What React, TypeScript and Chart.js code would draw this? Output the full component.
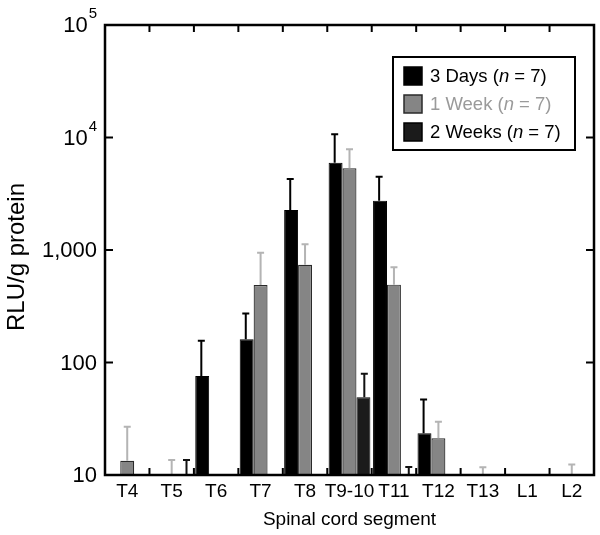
import React, { useEffect, useRef } from "react";
import { Chart, registerables } from "chart.js";
Chart.register(...registerables);

const categories = ["T4", "T5", "T6", "T7", "T8", "T9-10", "T11", "T12", "T13", "L1", "L2"];
const days3 = [null, null, 76, 161, 2270, 5970, 2740, 23.5, null, null, null];
const days3Upper = [null, null, 156, 272, 4280, 10670, 4480, 47, null, null, null];
const week1 = [13.4, null, null, 489, 740, 5320, 492, 21.2, null, null, null];
const week1Upper = [26.9, 13.6, null, 946, 1124, 7850, 702, 29.8, 11.7, null, 12.4];
const weeks2 = [null, null, null, null, null, 49, null, null, null, null, null];
const weeks2Upper = [null, 13.6, null, null, null, 79.5, 11.8, null, null, null, null];
const seriesNames = ["3 Days", "1 Week", "2 Weeks"];
const seriesN = [7, 7, 7];
const yTickValues = [10, 100, 1000, 10000, 100000];
const yTickLabels = ["10", "100", "1,000", "10^4", "10^5"];
const yTitle = "RLU/g protein";
const xTitle = "Spinal cord segment";

const FONT = '"Liberation Sans", Arial, Helvetica, sans-serif';
const fills = ["#000000", "#858585", "#1b1b1b"];
const borders = ["#000000", "#2a2a2a", "#000000"];
const errColors = ["#000000", "#b4b4b4", "#111111"];
const legendText = ["#000000", "#9a9a9a", "#000000"];

const decorPlugin = {
  id: "decor",
  afterDatasetsDraw(chart: any) {
    const ctx = chart.ctx;
    const ys = chart.scales.y;
    const xs = chart.scales.x;
    const n = categories.length;
    const slot = (chart.chartArea.right - chart.chartArea.left) / n / 3;
    chart.data.datasets.forEach((ds: any, di: number) => {
      const upper = ds.upper as (number | null)[];
      upper.forEach((u, i) => {
        if (u == null) return;
        const x = xs.getPixelForValue(i) + (di - 1) * slot;
        const v = ds.data[i];
        const y0 = v == null ? ys.bottom : ys.getPixelForValue(v);
        const y1 = ys.getPixelForValue(u);
        ctx.save();
        ctx.strokeStyle = errColors[di];
        ctx.lineWidth = 2;
        ctx.beginPath();
        ctx.moveTo(x, y0);
        ctx.lineTo(x, y1);
        ctx.moveTo(x - 3.5, y1);
        ctx.lineTo(x + 3.5, y1);
        ctx.stroke();
        ctx.restore();
      });
    });
  },
  afterDraw(chart: any) {
    const ctx = chart.ctx;
    const ys = chart.scales.y;
    const xs = chart.scales.x;
    const { left, right, top, bottom } = chart.chartArea;
    ctx.save();
    // ticks
    ctx.strokeStyle = "#000";
    ctx.lineWidth = 2;
    ctx.beginPath();
    yTickValues.forEach((v) => {
      const y = ys.getPixelForValue(v);
      ctx.moveTo(left, y);
      ctx.lineTo(left + 8, y);
      ctx.moveTo(right, y);
      ctx.lineTo(right - 8, y);
    });
    for (let i = 1; i < categories.length; i++) {
      const x = (xs.getPixelForValue(i - 1) + xs.getPixelForValue(i)) / 2;
      ctx.moveTo(x, bottom);
      ctx.lineTo(x, bottom - 7);
      ctx.moveTo(x, top);
      ctx.lineTo(x, top + 7);
    }
    ctx.stroke();
    // frame
    ctx.lineWidth = 2.5;
    ctx.strokeRect(left, top, right - left, bottom - top);

    // y tick labels
    ctx.fillStyle = "#000";
    ctx.textBaseline = "middle";
    ctx.textAlign = "right";
    yTickValues.forEach((v, i) => {
      const y = ys.getPixelForValue(v);
      const lab = yTickLabels[i];
      const xr = left - 8;
      if (lab.includes("^")) {
        const [base, exp] = lab.split("^");
        ctx.font = `15px ${FONT}`;
        ctx.fillText(exp, xr, y - 11);
        const ew = ctx.measureText(exp).width;
        ctx.font = `22px ${FONT}`;
        ctx.fillText(base, xr - ew - 1, y + 1);
      } else {
        ctx.font = `22px ${FONT}`;
        ctx.fillText(lab, xr, y + 1);
      }
    });

    // x tick labels
    ctx.textAlign = "center";
    ctx.font = `19px ${FONT}`;
    categories.forEach((c, i) => {
      ctx.fillText(c, xs.getPixelForValue(i), bottom + 17);
    });
    // x title
    ctx.font = `19px ${FONT}`;
    ctx.fillText(xTitle, (left + right) / 2, bottom + 45);
    // y title
    ctx.save();
    ctx.translate(17, (top + bottom) / 2 + 7);
    ctx.rotate(-Math.PI / 2);
    ctx.font = `24px ${FONT}`;
    ctx.fillText(yTitle, 0, 0);
    ctx.restore();

    // legend
    const bx = 393, by = 57, bw = 182, bh = 93;
    ctx.fillStyle = "#fff";
    ctx.fillRect(bx, by, bw, bh);
    ctx.strokeStyle = "#000";
    ctx.lineWidth = 2;
    ctx.strokeRect(bx, by, bw, bh);
    const rowY = [76, 104, 132];
    seriesNames.forEach((name, i) => {
      const cy = rowY[i];
      ctx.fillStyle = fills[i];
      ctx.fillRect(404, cy - 9, 18, 18);
      ctx.strokeStyle = borders[i];
      ctx.lineWidth = 1.5;
      ctx.strokeRect(404, cy - 9, 18, 18);
      ctx.fillStyle = legendText[i];
      ctx.textAlign = "left";
      ctx.textBaseline = "middle";
      let x = 430;
      ctx.font = `18.5px ${FONT}`;
      const p1 = `${name} (`;
      ctx.fillText(p1, x, cy + 1);
      x += ctx.measureText(p1).width;
      ctx.font = `italic 18.5px ${FONT}`;
      ctx.fillText("n", x, cy + 1);
      x += ctx.measureText("n").width;
      ctx.font = `18.5px ${FONT}`;
      ctx.fillText(` = ${seriesN[i]})`, x, cy + 1);
    });
    ctx.restore();
  },
};

export default function App() {
  const ref = useRef<HTMLCanvasElement | null>(null);
  useEffect(() => {
    if (!ref.current) return;
    const chart = new Chart(ref.current, {
      type: "bar",
      data: {
        labels: categories,
        datasets: [
          { label: seriesNames[0], data: days3, upper: days3Upper, backgroundColor: fills[0], borderColor: borders[0], borderWidth: 1 } as any,
          { label: seriesNames[1], data: week1, upper: week1Upper, backgroundColor: fills[1], borderColor: borders[1], borderWidth: 1.2 } as any,
          { label: seriesNames[2], data: weeks2, upper: weeks2Upper, backgroundColor: fills[2], borderColor: borders[2], borderWidth: 1 } as any,
        ],
      },
      options: {
        responsive: false,
        animation: false,
        layout: { padding: { left: 105, right: 6, top: 25, bottom: 60 } },
        plugins: { legend: { display: false }, tooltip: { enabled: false } },
        datasets: { bar: { categoryPercentage: 0.94, barPercentage: 1 } },
        scales: {
          x: { type: "category", display: false, offset: true },
          y: { type: "logarithmic", min: 10, max: 100000, display: false },
        },
      } as any,
      plugins: [decorPlugin],
    });
    return () => chart.destroy();
  }, []);
  return (
    <div style={{ position: "absolute", left: 0, top: 0, width: 600, height: 535, background: "#fff" }}>
      <canvas ref={ref} width={600} height={535} />
    </div>
  );
}
